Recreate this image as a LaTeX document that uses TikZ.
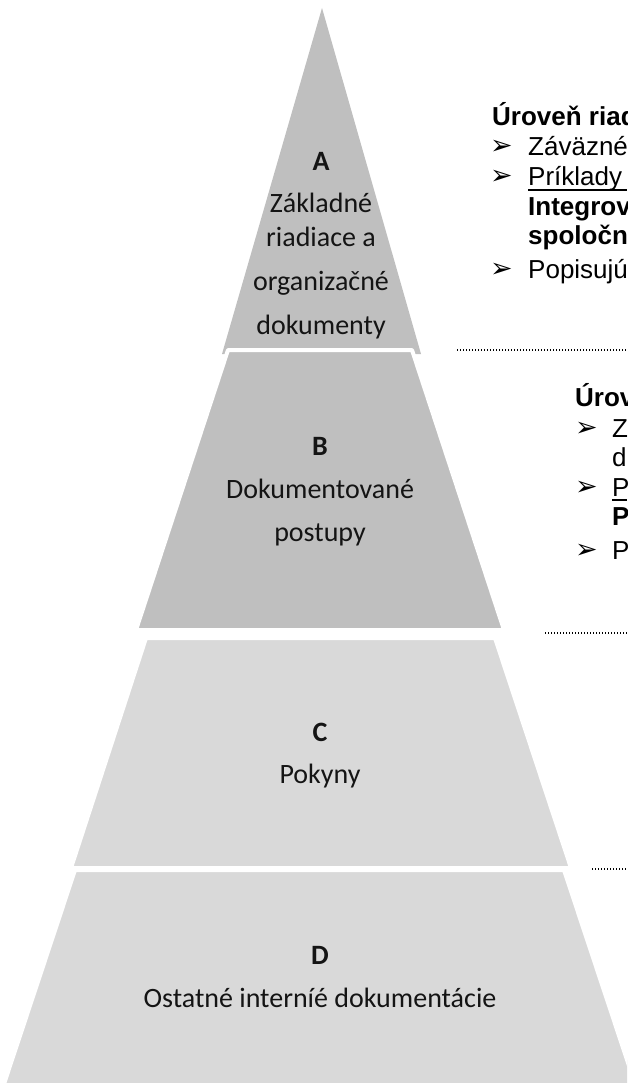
\documentclass[tikz,border=0pt]{standalone}
\usepackage{fontspec}
\setmainfont{Liberation Sans}
\newfontfamily\calfont{Carlito}
\newfontfamily\bulfont{DejaVu Sans}
\definecolor{segdark}{RGB}{191,191,191}
\definecolor{seglight}{RGB}{217,217,217}
\definecolor{ptxt}{RGB}{20,20,20}
\begin{document}
\begin{tikzpicture}[x=1pt,y=-1pt,
  seg/.style={draw=white, line width=4pt, line join=round},
  ptext/.style={anchor=base, inner sep=0pt, text=ptxt, font=\calfont\fontsize{28}{34}\selectfont},
  plet/.style={anchor=base, inner sep=0pt, text=ptxt, font=\calfont\bfseries\fontsize{28}{34}\selectfont},
  rtext/.style={anchor=base west, inner sep=0pt, font=\fontsize{26}{30}\selectfont},
  rbold/.style={anchor=base west, inner sep=0pt, font=\bfseries\fontsize{26}{30}\selectfont},
  bul/.style={anchor=base west, inner sep=0pt, font=\bulfont\fontsize{27}{30}\selectfont},
  levelline/.style={line width=1.3pt, dash pattern=on 1.3pt off 1.7pt},
  uline/.style={line width=1.6pt}]
\useasboundingbox (0,0) rectangle (627,1083);
\clip (0,0) rectangle (627,1083);

% pyramid segments
\fill[segdark] (322,8) -- (421,354) -- (222,354) -- cycle;
\filldraw[segdark, seg] (228,350) -- (412,350) -- (504,630) -- (136,630) -- cycle;
\filldraw[seglight, seg] (146,638) -- (495,638) -- (571,868) -- (71,868) -- cycle;
\filldraw[seglight, seg] (75,870) -- (564,870) -- (637,1090) -- (2,1090) -- cycle;

% segment texts
\node[plet]  (ta) at (321,171) {A};
\node[ptext] (ta1) at (321,213) {Základné};
\node[ptext] (ta2) at (321,247) {riadiace a};
\node[ptext] (ta3) at (321,290) {organizačné};
\node[ptext] (ta4) at (321,334) {dokumenty};

\node[plet]  (tb) at (320,455) {B};
\node[ptext] (tb1) at (320,498) {Dokumentované};
\node[ptext] (tb2) at (320,541) {postupy};

\node[plet]  (tc) at (320,741) {C};
\node[ptext] (tc1) at (320,783) {Pokyny};

\node[plet]  (td) at (320,964) {D};
\node[ptext] (td1) at (320,1007) {Ostatné interníé dokumentácie};

% level separators
\coordinate (edge1) at (627,350);
\coordinate (edge2) at (627,633);
\coordinate (edge3) at (627,869);
\coordinate (s1) at (457,350);
\coordinate (s2) at (545,633);
\coordinate (s3) at (592,869);
\draw[levelline] (s1) -- (edge1);
\draw[levelline] (s2) -- (edge2);
\draw[levelline] (s3) -- (edge3);

% level A description
\node[rbold] (ha) at (492,126) {Úroveň riad};
\node[bul] (ba1) at (490,155) {➢};
\node[rtext] (a1) at (528,156) {Záväzné};
\node[bul] (ba2) at (490,185) {➢};
\node[rtext] (a2) at (528,186) {Príklady};
\coordinate (ua2) at (627,190);
\draw[uline] ([yshift=-4pt]a2.base west) -- (ua2);
\node[rbold] (a3) at (528,215) {Integrov};
\node[rbold] (a4) at (528,244) {spoločn};
\node[bul] (ba5) at (490,277) {➢};
\node[rtext] (a5) at (528,278) {Popisujú};

% level B description
\node[rbold] (hb) at (575,406) {Úrov};
\node[bul] (bb1) at (575,436) {➢};
\node[rtext] (b1) at (612,437) {Z};
\node[rtext] (b2) at (612,466) {d};
\node[bul] (bb3) at (575,495) {➢};
\node[rtext] (b3) at (612,496) {P};
\coordinate (ub3) at (627,500);
\draw[uline] ([yshift=-4pt]b3.base west) -- (ub3);
\node[rbold] (b4) at (612,525) {P};
\node[bul] (bb5) at (575,558) {➢};
\node[rtext] (b5) at (612,559) {P};
\end{tikzpicture}
\end{document}
